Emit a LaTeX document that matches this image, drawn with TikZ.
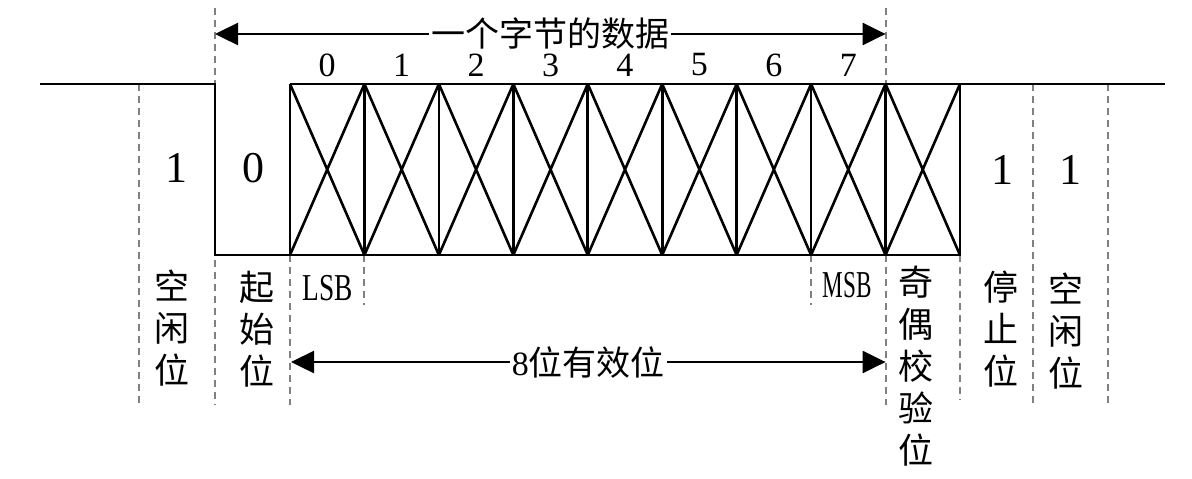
\documentclass[tikz,border=0pt]{standalone}
\usepackage{fontspec}
\setmainfont{Liberation Serif}
\newfontfamily\cjk{Noto Sans CJK SC}
\usepackage{graphicx}
\usetikzlibrary{arrows.meta}
\definecolor{guideGray}{HTML}{808080}

\begin{document}
\begin{tikzpicture}[x=0.5pt,y=-0.5pt,
    signal/.style={line width=1.3pt, line join=miter},
    guide/.style={guideGray, line width=1pt, dash pattern=on 3.5pt off 2.5pt},
    span/.style={line width=1.2pt, {Triangle[length=11.5pt,width=11pt]}-{Triangle[length=11.5pt,width=11pt]}},
    level/.style={font=\fontsize{22}{26}\selectfont},
    bitnum/.style={font=\fontsize{17}{20}\selectfont},
    endbit/.style={font=\fontsize{19}{22}\selectfont},
    zhstack/.style={align=center, font=\cjk\fontsize{17.5}{21}\selectfont},
    spantext/.style={fill=white, inner sep=1pt, font=\fontsize{17}{20}\selectfont}]
  \useasboundingbox (0,0) rectangle (1192,478);

  % guide lines
  \foreach \x/\a/\b in {139/84/405, 215/8/405, 290/255/405, 364.4/255/305,
      811.1/255/305, 885.6/8/84, 885.6/255/405, 960/255/400, 1033/84/405, 1108/84/405}
    \draw[guide] (\x,\a) -- (\x,\b);

  % signal
  \coordinate (idleL) at (40,84);
  \coordinate (startT) at (215,84);
  \coordinate (startB) at (215,255);
  \coordinate (idleR) at (1165,84);
  \foreach \k in {0,...,9} {
    \coordinate (t\k) at ({290+74.44*\k},84);
    \coordinate (b\k) at ({290+74.44*\k},255);
  }
  \draw[signal] (idleL) -- (startT) -- (startB) -- (b9) -- (t9) -- (idleR);
  \draw[signal] (t0) -- (t9);
  \foreach \k in {0,...,9}
    \draw[signal] (t\k) -- (b\k);
  \foreach \k [count=\n] in {0,...,8}
    \draw[signal] (t\k) -- (b\n) (b\k) -- (t\n);

  % bit numbers
  \foreach \d in {0,...,7}
    \node[bitnum] (num\d) at ({290+74.44*(\d+0.5)},65) {\d};

  % levels
  \node[level] (idleOne) at (176,168) {1};
  \node[level] (startZero) at (253,168) {0};
  \node[level] (stopOne) at (1002,170) {1};
  \node[level] (idleOneR) at (1070,170) {1};

  \node[endbit] (lsb) at (328,288) {\scalebox{0.72}[1]{LSB}};
  \node[endbit] (msb) at (847,285) {\scalebox{0.61}[1]{MSB}};

  % field names
  \node[zhstack] (idleName) at (172,328) {空\\闲\\位};
  \node[zhstack] (startName) at (257,329) {起\\始\\位};
  \node[zhstack] (parityName) at (916,366) {奇\\偶\\校\\验\\位};
  \node[zhstack] (stopName) at (1001,329) {停\\止\\位};
  \node[zhstack] (idleNameR) at (1066,331) {空\\闲\\位};

  % spans
  \coordinate (byteL) at (215,34);
  \coordinate (byteR) at (885.6,34);
  \coordinate (dataL) at (291,362);
  \coordinate (dataR) at (885.6,362);
  \draw[span] (byteL) -- node[spantext] (byteText) {\cjk 一个字节的数据} (byteR);
  \draw[span] (dataL) -- node[spantext] (dataText) {8\cjk 位有效位} (dataR);
\end{tikzpicture}
\end{document}
